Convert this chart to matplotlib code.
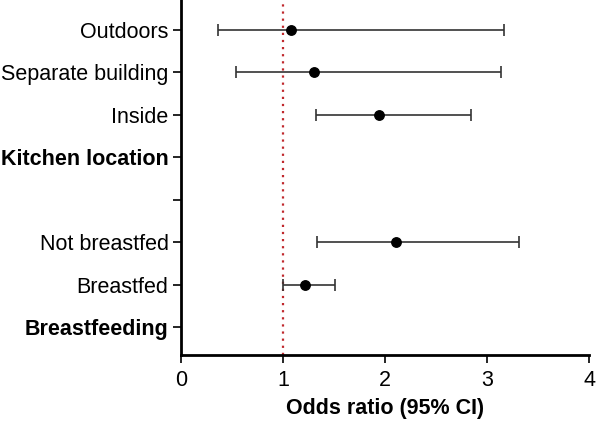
import numpy as np
import matplotlib
matplotlib.use("Agg")
import matplotlib.pyplot as plt

plt.rcParams['font.family'] = ['Liberation Sans', 'DejaVu Sans']

# rows from top to bottom
labels = ["Outdoors", "Separate building", "Inside", "Kitchen location",
          "", "Not breastfed", "Breastfed", "Breastfeeding"]
is_header = [False, False, False, True, False, False, False, True]
odds = [1.08, 1.30, 1.94, np.nan, np.nan, 2.11, 1.22, np.nan]
ci_low = [0.36, 0.54, 1.32, np.nan, np.nan, 1.33, 1.00, np.nan]
ci_high = [3.17, 3.14, 2.84, np.nan, np.nan, 3.31, 1.51, np.nan]
x_ticks = [0, 1, 2, 3, 4]

fig = plt.figure(figsize=(5.96, 4.23), dpi=100)
ax = fig.add_axes([0.3037, 0.1608, 0.6846, 0.8392])

y = np.arange(len(labels))
odds = np.array(odds)
err = np.array([odds - np.array(ci_low), np.array(ci_high) - odds])

ax.errorbar(odds, y, xerr=err, fmt='o', color='black', ecolor='#333333',
            elinewidth=1.2, capsize=4, capthick=1.2, markersize=6.8, zorder=3)
ax.axvline(1, color='#c0282d', linestyle=(0, (1, 2.2)), linewidth=1.6, zorder=1)

ax.set_xlim(0, 4)
ax.set_ylim(7.65, -0.7)
ax.set_xticks(x_ticks)
ax.set_xticklabels([str(t) for t in x_ticks], fontsize=15.5)
ax.set_yticks(y)
ax.set_yticklabels(labels, fontsize=15.5)
for lab, bold in zip(ax.get_yticklabels(), is_header):
    if bold:
        lab.set_fontweight('bold')

ax.set_xlabel("Odds ratio (95% CI)", fontsize=15.5, fontweight='bold', labelpad=5)

for side in ['top', 'right']:
    ax.spines[side].set_visible(False)
for side in ['left', 'bottom']:
    ax.spines[side].set_linewidth(2)
ax.tick_params(axis='both', width=1.2, length=6, color='black')
ax.tick_params(axis='y', pad=3)
ax.tick_params(axis='x', pad=5)

fig.savefig("out.png", dpi=100)
